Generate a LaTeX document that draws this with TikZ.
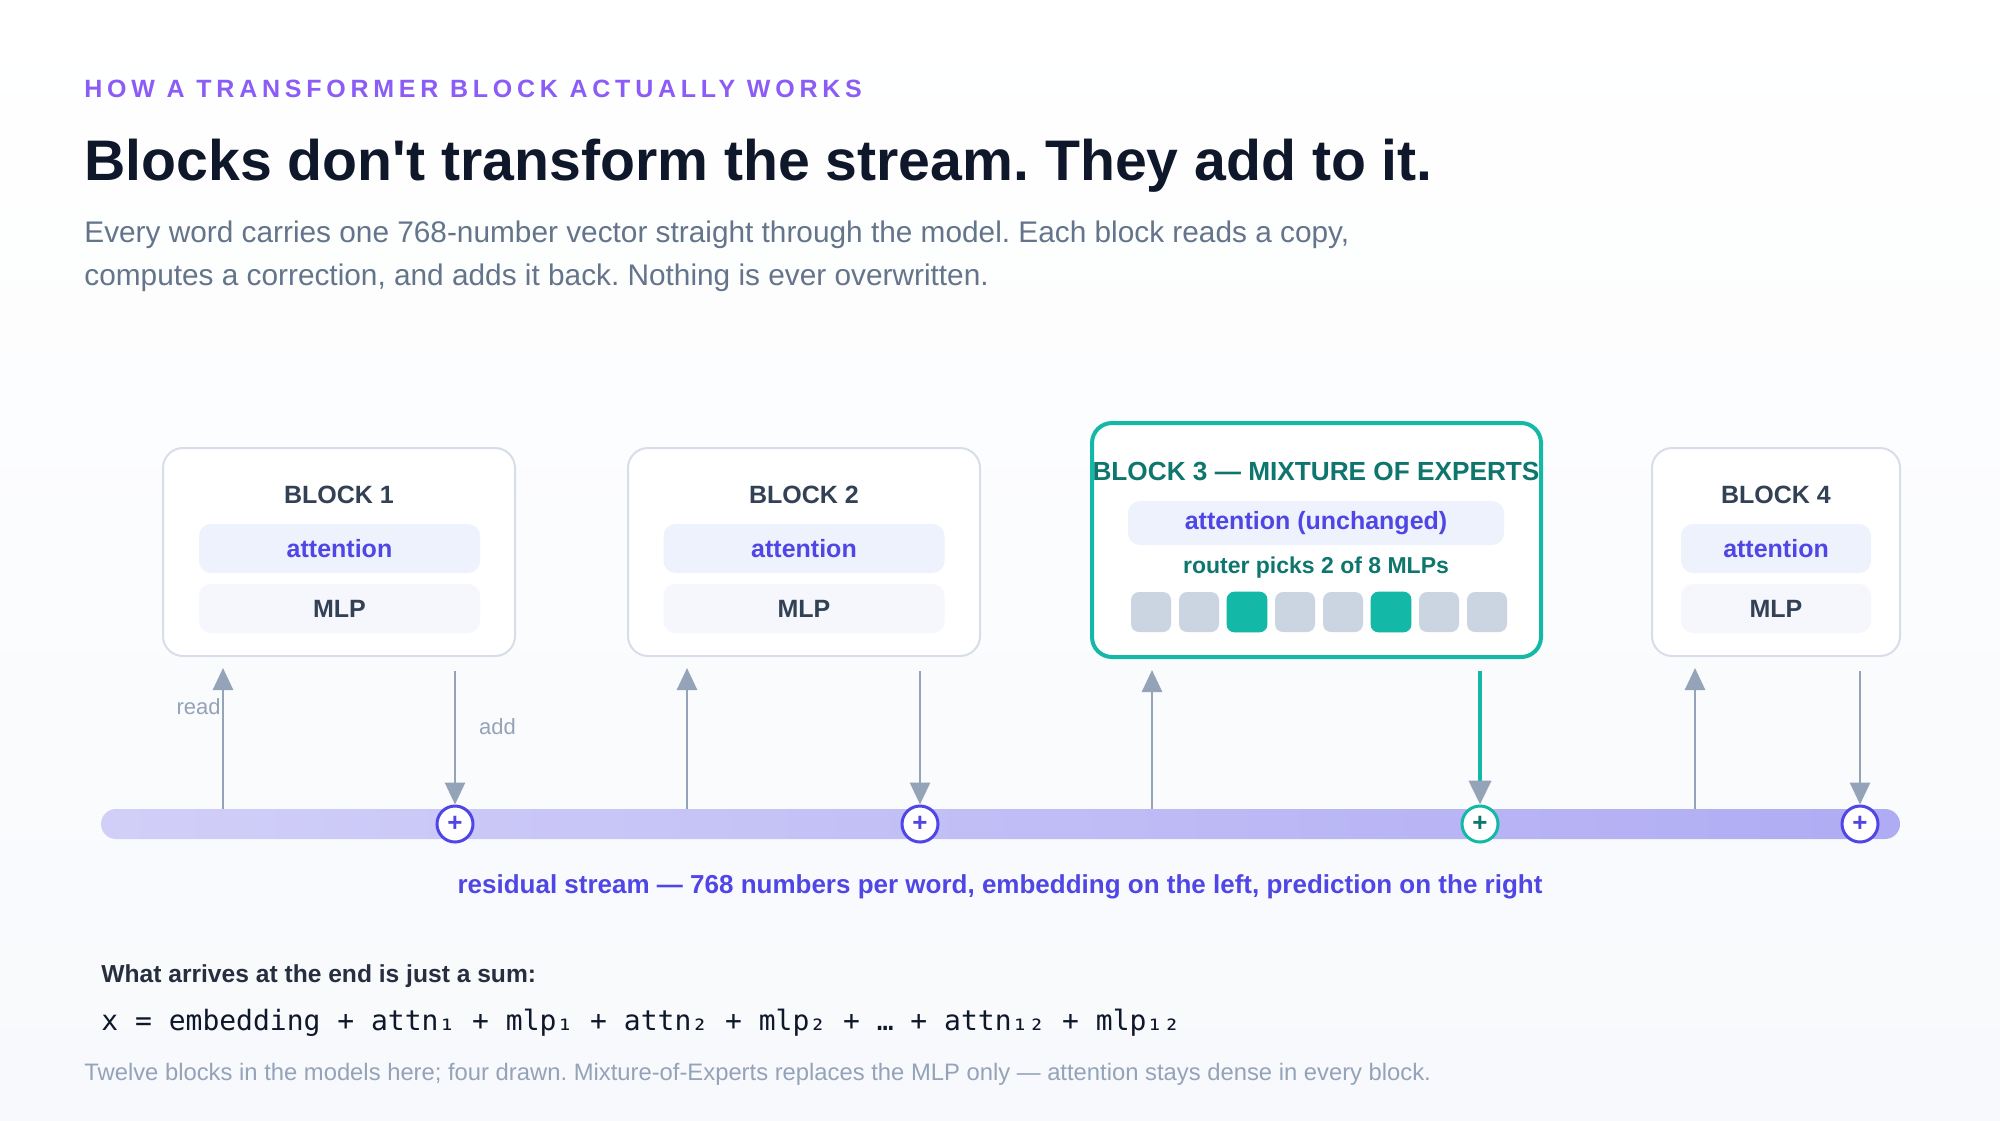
\documentclass[tikz,border=0pt]{standalone}
\usepackage{fontspec}
\setmainfont{Liberation Sans}
\newfontfamily\monofont{DejaVu Sans Mono}
\usepackage{tikz}
\usetikzlibrary{positioning}
\usetikzlibrary{calc}
\usetikzlibrary{arrows.meta}

\definecolor{bgc}{HTML}{F7F9FC}
\definecolor{kicker}{HTML}{8B5CF6}
\definecolor{ink}{HTML}{0F172A}
\definecolor{slate}{HTML}{64748B}
\definecolor{mute}{HTML}{94A3B8}
\definecolor{edge}{HTML}{D8DEE9}
\definecolor{rowbg}{HTML}{EEF2FC}
\definecolor{indigo}{HTML}{4F46E5}
\definecolor{dark}{HTML}{334155}
\definecolor{teal}{HTML}{14B8A6}
\definecolor{tealdk}{HTML}{0F766E}
\definecolor{chip}{HTML}{CBD5E1}
\frenchspacing

\begin{document}
\begin{tikzpicture}
  [ x=0.5pt, y=-0.5pt,
    block/.style={draw=edge, line width=1pt, fill=white, rounded corners=10pt,
      minimum height=104pt, inner sep=0pt},
    row/.style={fill=rowbg, rounded corners=6pt, minimum width=140.5pt,
      minimum height=24.5pt, inner sep=0pt, font=\fontsize{12.5}{14}\selectfont\bfseries},
    head/.style={font=\fontsize{12.5}{14}\selectfont\bfseries, text=dark},
    chp/.style={fill=chip, rounded corners=4pt, minimum size=20pt, inner sep=0pt},
    plus/.style={circle, draw=indigo, fill=white, line width=1.5pt, minimum size=18pt,
      inner sep=0pt, text=indigo, font=\fontsize{13}{13}\selectfont\bfseries},
    rd/.style={draw=mute, line width=1.4pt, -{Triangle[width=10pt,length=11pt]}},
    lbl/.style={text=mute, font=\fontsize{11}{13}\selectfont}
  ]
  % background
  \shade [top color=white, bottom color=bgc] (0,0) rectangle (2000,1120);
  \useasboundingbox (0,0) rectangle (2000,1120);

  % heading
  \node (kick) [anchor=base west, text=kicker, inner sep=0pt,
    font=\fontsize{12.5}{14}\selectfont\bfseries\addfontfeature{LetterSpace=19}] at (84,97)
    {HOW A TRANSFORMER BLOCK ACTUALLY WORKS};
  \node (title) [anchor=base west, text=ink, inner sep=0pt,
    font=\fontsize{28.6}{34}\selectfont\bfseries] at (84,180)
    {Blocks don\textquotesingle t transform the stream. They add to it.};
  \node (sub) [anchor=north west, text=slate, inner sep=0pt, align=left,
    font=\fontsize{14.9}{21.5}\selectfont] at (84,220)
    {Every word carries one 768-number vector straight through the model. Each block reads a copy,\\
     computes a correction, and adds it back. Nothing is ever overwritten.};

  % residual stream
  \node (stream) [minimum width=899.5pt, minimum height=15pt, inner sep=0pt, rounded corners=7.5pt,
    left color=indigo!26, right color=indigo!45] at (1000.5,824) {};

  % blocks
  \node (b1) [block, minimum width=176pt] at (339,552) {};
  \node (b2) [block, minimum width=176pt] at (804,552) {};
  \node (b3) [block, minimum width=224.5pt, minimum height=117pt, draw=teal, line width=2pt] at (1316.5,540) {};
  \node (b4) [block, minimum width=124pt] at (1776,552) {};

  \node (h1) [head] at (339,495) {BLOCK 1};
  \node (h2) [head] at (804,495) {BLOCK 2};
  \node (h4) [head] at (1776,495) {BLOCK 4};
  \node (h3) [head, text=tealdk, font=\fontsize{13.1}{14}\selectfont\bfseries] at (1316,471) {BLOCK 3 — MIXTURE OF EXPERTS};

  \node (a1) [row, text=indigo] at (339.5,548.5) {attention};
  \node (m1) [row, text=dark, fill=rowbg!60] at (339.5,608.5) {MLP};
  \node (a2) [row, text=indigo] at (804,548.5) {attention};
  \node (m2) [row, text=dark, fill=rowbg!60] at (804,608.5) {MLP};
  \node (a4) [row, text=indigo, minimum width=95pt] at (1776,548.5) {attention};
  \node (m4) [row, text=dark, fill=rowbg!60, minimum width=95pt] at (1776,608.5) {MLP};

  \node (a3) [row, text=indigo, minimum width=188pt, minimum height=22pt] at (1316,523) {attention (unchanged)};
  \node (rt) [head, text=tealdk, font=\fontsize{11.5}{13}\selectfont\bfseries] at (1316,568) {router picks 2 of 8 MLPs};
  \foreach \i in {0,...,7}
    \node (e\i) [chp] at (1151+48*\i,612) {};
  \fill [teal, rounded corners=4pt] (e2.south west) rectangle (e2.north east);
  \fill [teal, rounded corners=4pt] (e5.south west) rectangle (e5.north east);

  % adders on the stream
  \node (p1) [plus] at (455,824) {+};
  \node (p2) [plus] at (920,824) {+};
  \node (p3) [plus, draw=teal, text=tealdk] at (1480,824) {+};
  \node (p4) [plus] at (1860,824) {+};

  % read points
  \coordinate (r1) at (223,809);
  \coordinate (r2) at (687,809);
  \coordinate (r3) at (1152,809);
  \coordinate (r4) at (1695,809);

  \draw [rd, shorten >=5.5pt] (r1) -- (r1 |- b1.south);
  \draw [rd, shorten >=5.5pt] (r2) -- (r2 |- b2.south);
  \draw [rd, shorten >=5.5pt] (r3) -- (r3 |- b3.south);
  \draw [rd, shorten >=5.5pt] (r4) -- (r4 |- b4.south);

  \draw [rd, shorten <=7pt] (p1 |- b1.south) -- (p1.north);
  \draw [rd, shorten <=7pt] (p2 |- b2.south) -- (p2.north);
  \draw [rd, draw=teal, line width=2pt, shorten <=6pt,
    -{Triangle[width=11pt,length=12pt,color=mute]}] (p3 |- b3.south) -- (p3.north);
  \draw [rd, shorten <=7pt] (p4 |- b4.south) -- (p4.north);

  \node (read) [lbl, anchor=base east, inner sep=1pt] at (223,714) {read};
  \node (add) [lbl, anchor=base west] at (472,734) {add};

  % captions
  \node (cap) [text=indigo, font=\fontsize{13}{14}\selectfont\bfseries] at (1000,887)
    {residual stream — 768 numbers per word, embedding on the left, prediction on the right};
  \node (sumh) [anchor=base west, inner sep=0pt, text=ink!90,
    font=\fontsize{12.3}{14}\selectfont\bfseries] at (101,982) {What arrives at the end is just a sum:};
  \node (sum) [anchor=base west, inner sep=0pt, text=ink,
    font=\fontsize{14}{16}\monofont] at (101,1030)
    {x = embedding + attn₁ + mlp₁ + attn₂ + mlp₂ + … + attn₁₂ + mlp₁₂};
  \node (foot) [anchor=base west, inner sep=0pt, text=mute,
    font=\fontsize{11.9}{13}\selectfont] at (84,1080)
    {Twelve blocks in the models here; four drawn. Mixture-of-Experts replaces the MLP only — attention stays dense in every block.};
\end{tikzpicture}
\end{document}
